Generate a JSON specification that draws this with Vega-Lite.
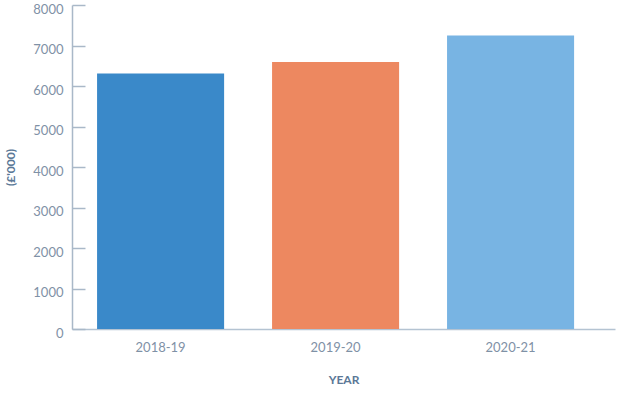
{
  "$schema": "https://vega.github.io/schema/vega-lite/v6.json",
  "width": 543,
  "height": 324,
  "autosize": {"type": "none"},
  "padding": {"left": 72, "top": 5, "right": 5, "bottom": 72},
  "background": "white",
  "config": {
    "view": {"stroke": null},
    "font": "Lato"
  },
  "data": {
    "values": [
      {"year": "2018-19", "value": 6310},
      {"year": "2019-20", "value": 6590},
      {"year": "2020-21", "value": 7250}
    ]
  },
  "mark": {"type": "bar"},
  "encoding": {
    "x": {
      "field": "year",
      "type": "nominal",
      "sort": null,
      "scale": {"paddingInner": 0.274, "paddingOuter": 0.1885, "align": 0.38},
      "axis": {
        "title": "YEAR",
        "titleFont": "Lato",
        "titleFontSize": 12,
        "titleFontWeight": "bold",
        "titleColor": "#5b7897",
        "titlePadding": 20,
        "labelAngle": 0,
        "labelFontSize": 13,
        "labelColor": "#7f91a6",
        "labelPadding": 12,
        "ticks": false,
        "domainColor": "#b4c3d2",
        "domainWidth": 1.5
      }
    },
    "y": {
      "field": "value",
      "type": "quantitative",
      "scale": {"domain": [0, 8000], "nice": false},
      "axis": {
        "title": "(£'000)",
        "titleFont": "Lato",
        "titleFontSize": 12,
        "titleFontWeight": "bold",
        "titleColor": "#5b7897",
        "titleX": -55,
        "values": [0, 1000, 2000, 3000, 4000, 5000, 6000, 7000, 8000],
        "format": "d",
        "grid": false,
        "tickSize": -13,
        "tickColor": "#a9b8c8",
        "tickWidth": 1.5,
        "domainColor": "#a9b8c8",
        "domainWidth": 1.5,
        "labelFontSize": 13,
        "labelColor": "#7f91a6",
        "labelPadding": 22,
        "labelOffset": 4
      }
    },
    "color": {
      "field": "year",
      "type": "nominal",
      "scale": {"domain": ["2018-19", "2019-20", "2020-21"], "range": ["#3a89c9", "#ed8860", "#78b4e3"]},
      "legend": null
    }
  }
}
